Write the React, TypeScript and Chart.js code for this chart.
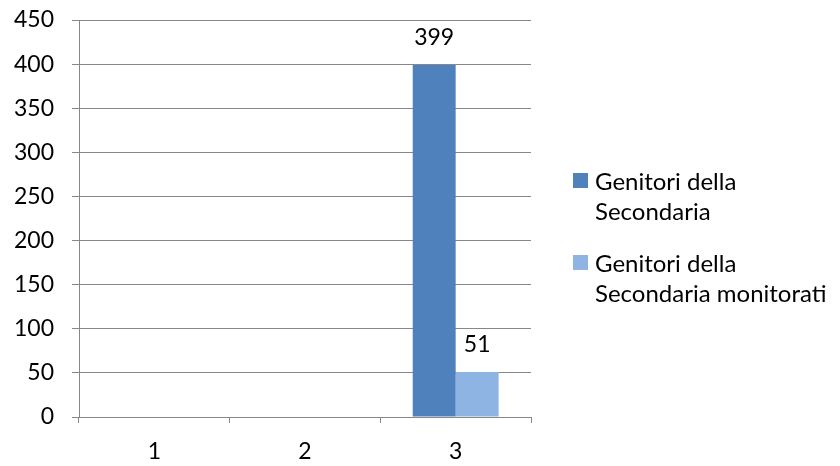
import React, { useEffect, useRef } from "react";
import { Chart, registerables } from "chart.js";

Chart.register(...registerables);

const categories = ["1", "2", "3"];
const seriesNames = ["Genitori della Secondaria", "Genitori della Secondaria monitorati"];
const legendLines = [["Genitori della", "Secondaria"], ["Genitori della", "Secondaria monitorati"]];
const secondaria = [null, null, 399];
const monitorati = [null, null, 51];
const colors = ["#4F81BD", "#8EB4E3"];
const FONT = "Lato, 'Open Sans', sans-serif";
const FS = 23;

const valueLabels = {
  id: "valueLabels",
  afterDatasetsDraw(chart: any) {
    const ctx = chart.ctx;
    ctx.save();
    ctx.font = `${FS}px ${FONT}`;
    ctx.fillStyle = "#000";
    ctx.textAlign = "center";
    ctx.textBaseline = "alphabetic";
    chart.data.datasets.forEach((ds: any, i: number) => {
      const meta = chart.getDatasetMeta(i);
      meta.data.forEach((bar: any, j: number) => {
        const v = ds.data[j];
        if (v === null || v === undefined) return;
        ctx.fillText(String(v), bar.x, bar.y - 20);
      });
    });
    ctx.restore();
  },
};

export default function App() {
  const ref = useRef<HTMLCanvasElement>(null);
  useEffect(() => {
    if (!ref.current) return;
    const chart = new Chart(ref.current, {
      type: "bar",
      data: {
        labels: categories,
        datasets: [
          { label: seriesNames[0], data: secondaria, backgroundColor: colors[0], barPercentage: 1, categoryPercentage: 0.57 },
          { label: seriesNames[1], data: monitorati, backgroundColor: colors[1], barPercentage: 1, categoryPercentage: 0.57 },
        ],
      },
      options: {
        animation: false,
        responsive: false,
        devicePixelRatio: 1,
        layout: { padding: { top: 20, right: 309, left: 0, bottom: 0 } },
        plugins: { legend: { display: false }, tooltip: { enabled: false } },
        scales: {
          x: {
            offset: true,
            grid: { offset: true, drawOnChartArea: false, drawTicks: true, tickLength: 6, color: "#888888", lineWidth: 1 },
            border: { color: "#888888" },
            ticks: { color: "#000", font: { family: FONT, size: FS }, padding: 15 },
            afterFit: (s: any) => { s.height = 49; s.paddingLeft = 0; s.paddingRight = 0; },
          },
          y: {
            min: 0,
            max: 450,
            ticks: { stepSize: 50, color: "#000", font: { family: FONT, size: FS }, padding: 18 },
            grid: { color: "#888888", tickLength: 7, lineWidth: 1 },
            border: { color: "#888888" },
            afterFit: (s: any) => { s.width = 79; s.paddingTop = 0; s.paddingBottom = 0; },
          },
        },
      },
      plugins: [valueLabels],
    });
    return () => chart.destroy();
  }, []);
  return (
    <div style={{ position: "absolute", left: 0, top: 0, width: 840, height: 466, background: "#fff" }}>
      <canvas ref={ref} width={840} height={466} style={{ position: "absolute", left: 0, top: 0 }} />
      {legendLines.map((lines, i) => (
        <div key={i} style={{ position: "absolute", left: 573, top: 166 + i * 82, fontFamily: FONT, fontSize: 24, lineHeight: "30px", color: "#000" }}>
          <span style={{ position: "absolute", left: 0, top: 7, width: 15, height: 15, background: colors[i] }} />
          <div style={{ marginLeft: 22, whiteSpace: "nowrap" }}>
            {lines.map((l, k) => <div key={k}>{l}</div>)}
          </div>
        </div>
      ))}
    </div>
  );
}
